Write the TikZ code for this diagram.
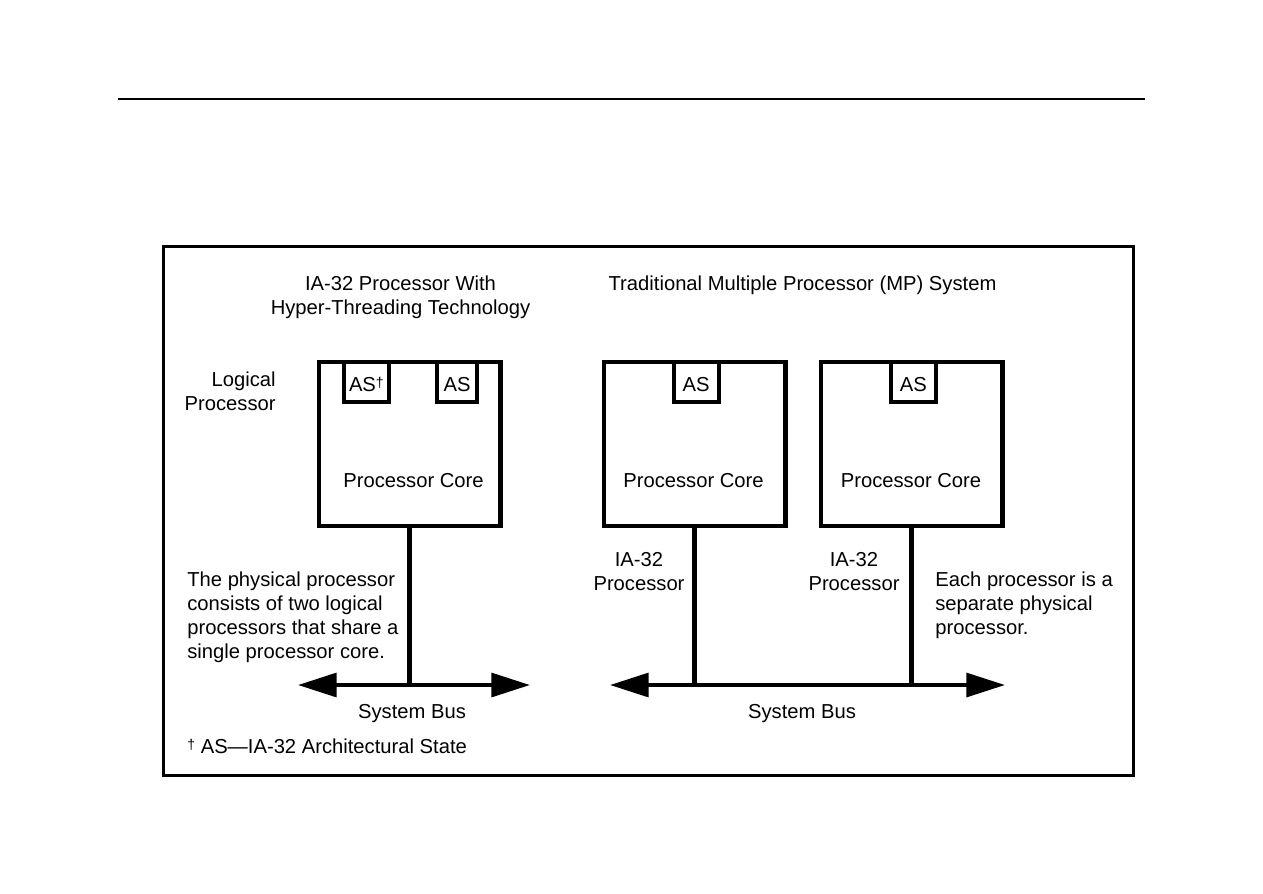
\documentclass[tikz,border=0pt]{standalone}
\usepackage{fontspec}
\setmainfont{Liberation Sans}
\usetikzlibrary{arrows.meta,positioning}

\begin{document}
\begin{tikzpicture}[x=0.02cm, y=-0.02cm, >={Triangle[length=22pt,width=13.5pt]},
    font=\fontsize{11.5}{13.6}\selectfont,
    cpu/.style={draw, line width=2.3pt, minimum width=3.64cm, minimum height=3.28cm, inner sep=0pt, outer sep=0pt},
    asbox/.style={draw, line width=2.3pt, minimum height=0.8cm, inner sep=0pt, outer sep=0pt, anchor=north,
      text height=10.5pt, text depth=0pt},
    wire/.style={line width=2.3pt},
    txt/.style={inner sep=0pt, yshift=-1.2pt}]
    \useasboundingbox (0,0) rectangle (1263,893);
    \draw[line width=0.6pt] (118,99) -- (1145,99);
    \draw[line width=1.7pt] (163.5,246.5) rectangle (1133.5,775.5);
    % titles
    \node[txt, align=center] (titleHT) at (400.5,295) {IA-32 Processor With\\Hyper-Threading Technology};
    \node[txt] (titleMP) at (802.5,283) {Traditional Multiple Processor (MP) System};
    % processors
    \node[cpu] (coreHT) at (409.5,444) {};
    \node[cpu] (coreA) at (694.5,444) {};
    \node[cpu] (coreB) at (911.5,444) {};
    \node[asbox, minimum width=0.9cm] (asDag) at (366.4,362) {AS{\footnotesize\raisebox{.25em}{†}}};
    \node[asbox, minimum width=0.8cm] (asHT) at (457,362) {AS};
    \node[asbox, minimum width=0.9cm] (asA) at (696.2,362) {AS};
    \node[asbox, minimum width=0.9cm] (asB) at (913.3,362) {AS};
    \node[txt] (pcHT) at (413.5,478) {Processor Core};
    \node[txt] (pcA) at (693.5,478) {Processor Core};
    \node[txt] (pcB) at (911,478) {Processor Core};
    \node[txt, align=right, anchor=east] (logical) at (276,389.5) {Logical\\Processor};
    % buses
    \coordinate (busL1) at (298,685); \coordinate (busL2) at (530,685);
    \coordinate (busR1) at (610,685); \coordinate (busR2) at (1005,685);
    \draw[wire, <->] (busL1) -- (busL2);
    \draw[wire, <->] (busR1) -- (busR2);
    \draw[wire] (coreHT.south) -- (coreHT.south |- busL1);
    \draw[wire] (coreA.south) -- (coreA.south |- busR1);
    \draw[wire] (coreB.south) -- (coreB.south |- busR1);
    \node[txt] (busLlbl) at (412,711) {System Bus};
    \node[txt] (busRlbl) at (802,711) {System Bus};
    \node[txt, align=center] (ia32A) at (639,569.5) {IA-32\\Processor};
    \node[txt, align=center] (ia32B) at (854,569.5) {IA-32\\Processor};
    % notes
    \node[txt, align=left, anchor=west] (noteHT) at (187,615) {The physical processor\\consists of two logical\\processors that share a\\single processor core.};
    \node[txt, align=left, anchor=west] (noteMP) at (935,603.5) {Each processor is a\\separate physical\\processor.};
    \node[txt, anchor=west] (foot) at (187,744) {{\footnotesize\raisebox{.25em}{†}} AS—IA-32 Architectural State};
\end{tikzpicture}
\end{document}
